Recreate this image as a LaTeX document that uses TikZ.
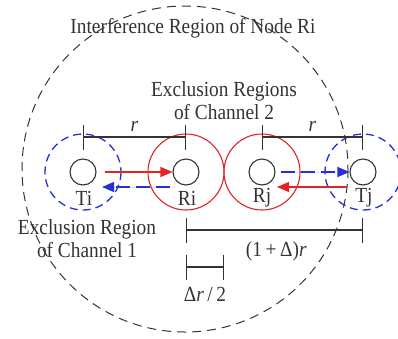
\documentclass[tikz,border=0pt]{standalone}
\usepackage{fontspec}
\setmainfont[FakeStretch=0.9]{Liberation Serif}
\usepackage{tikz}
\usetikzlibrary{arrows.meta,positioning,calc}
\definecolor{ChanRed}{HTML}{E02428}
\definecolor{ChanBlue}{HTML}{2630D8}
\definecolor{LineGray}{HTML}{333333}
\tikzset{
  station/.style={circle,draw=LineGray,line width=1.1pt,minimum size=26pt,inner sep=0pt},
  tag/.style={font=\fontsize{21.5}{23}\selectfont,text=LineGray,inner sep=0pt},
  caption/.style={tag,align=center},
  interf/.style={draw=LineGray,line width=1pt,dash pattern=on 9pt off 6pt},
  excl/.style={draw=ChanRed,line width=1.1pt},
  chanone/.style={draw=ChanBlue,line width=1.3pt,dash pattern=on 8pt off 5pt},
  dim/.style={draw=LineGray,line width=1.1pt,{Bar[width=25pt]}-{Bar[width=25pt]}},
  sig/.style={-{Triangle[length=12pt,width=10pt]},line width=1.1pt,draw=ChanRed,fill=ChanRed},
  ack/.style={-{Triangle[length=12pt,width=10pt]},line width=1.3pt,draw=ChanBlue,fill=ChanBlue,
    dash pattern=on 14pt off 6pt}
}
\begin{document}
\begin{tikzpicture}[x=1pt,y=-1pt]
  \useasboundingbox (0,0) rectangle (398,338);
  % stations
  \node[station] (ti) at (83,172) {};
  \node[station] (ri) at (186,172) {};
  \node[station] (rj) at (262,172) {};
  \node[station] (tj) at (363,172) {};
  \node[tag] (tilab) at (84,198) {Ti};
  \node[tag] (rilab) at (187,198) {Ri};
  \node[tag] (rjlab) at (262,198) {Rj};
  \node[tag] (tjlab) at (364,198) {Tj};
  % regions
  \draw[interf] ($(ri)+(-1,-3)$) circle (163);
  \draw[excl] (ri) circle (38);
  \draw[excl] (rj) circle (38);
  \draw[chanone] (ti) circle (38);
  \draw[chanone] (tj) circle (38);
  % transmissions
  \draw[sig] ([xshift=8pt]ti.east) -- (ri.west);
  \draw[ack] ($(ri)+(-16,15)$) -- ($(ti)+(19,15)$);
  \draw[ack] ([xshift=5pt]rj.east) -- (tj.west);
  \draw[sig] ($(tj)+(-16,15)$) -- ($(rj)+(15,15)$);
  % distances
  \draw[dim] ($(ti)+(0,-35)$) -- node[tag,above=5pt]{\textit{r}} ($(ri)+(0,-35)$);
  \draw[dim] ($(rj)+(0,-35)$) -- node[tag,above=5pt]{\textit{r}} ($(tj)+(0,-35)$);
  \draw[dim] ($(ri)+(0,58)$) -- node[tag,pos=0.51,below=11pt]{(1\,+\,Δ)\textit{r}} ($(tj)+(0,58)$);
  \coordinate (dr) at ($(ri)+(38,95)$);
  \draw[dim] ($(ri)+(0,95)$) -- node[tag,below=20pt]{Δ\textit{r}\,/\,2} (dr);
  % captions
  \node[tag] (interflab) at (193,28) {Interference Region of Node Ri};
  \node[caption] (ex2) at (224,101) {Exclusion Regions\\of Channel 2};
  \node[caption] (ex1) at (87,239) {Exclusion Region\\of Channel 1};
\end{tikzpicture}
\end{document}
